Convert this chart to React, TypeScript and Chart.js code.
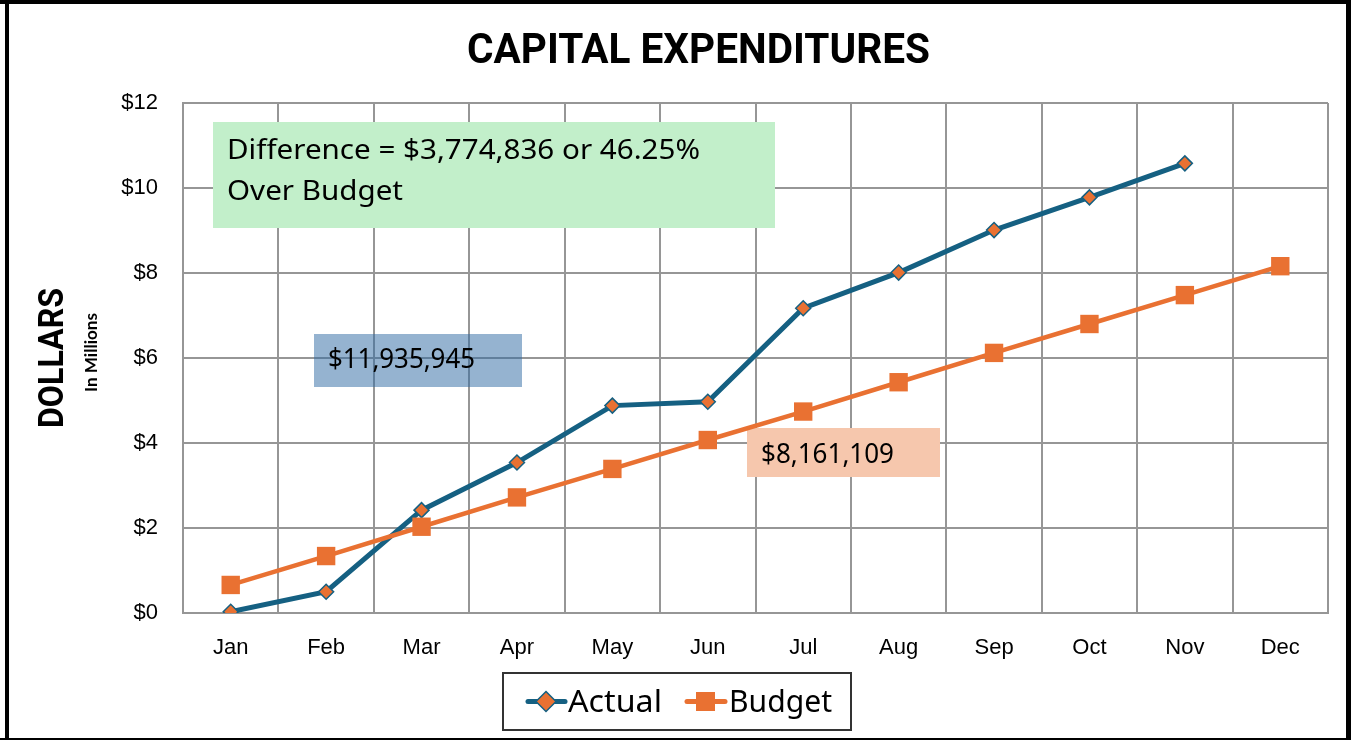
import React, { useEffect, useRef } from 'react';
import { Chart, registerables } from 'chart.js';

Chart.register(...registerables);

// ---- Data ----
const months = ['Jan', 'Feb', 'Mar', 'Apr', 'May', 'Jun', 'Jul', 'Aug', 'Sep', 'Oct', 'Nov', 'Dec'];
const actualValues: (number | null)[] = [0.03, 0.5, 2.42, 3.54, 4.88, 4.97, 7.17, 8.01, 9.01, 9.78, 10.58, null];
const budgetValues: number[] = [0.66, 1.34, 2.03, 2.72, 3.39, 4.07, 4.74, 5.43, 6.12, 6.8, 7.48, 8.16];
const yMin = 0;
const yMax = 12;
const yStep = 2;
const seriesNames = ['Actual', 'Budget'];
const titleText = 'CAPITAL EXPENDITURES';
const yTitleText = 'DOLLARS';
const ySubTitleText = 'In Millions';
const differenceLines = ['Difference = $3,774,836 or 46.25%', 'Over Budget'];
const actualTotalText = '$11,935,945';
const budgetTotalText = '$8,161,109';

const ACTUAL_COLOR = '#156082';
const BUDGET_COLOR = '#E97132';
const GRID_COLOR = '#969696';
const BOX_FONT = "'Noto Sans'";
const BOX_SIZE = 26.5;

// draw text with a given font size, horizontally scaled to a target width
function drawScaledText(
  ctx: CanvasRenderingContext2D,
  text: string,
  x: number,
  y: number,
  size: number,
  weight: string,
  family: string,
  targetWidth: number,
  color = '#000'
) {
  ctx.save();
  ctx.font = `${weight} ${size}px ${family}`;
  const w = ctx.measureText(text).width;
  const sx = targetWidth / w;
  ctx.translate(x, y);
  ctx.scale(sx, 1);
  ctx.fillStyle = color;
  ctx.textAlign = 'left';
  ctx.textBaseline = 'alphabetic';
  ctx.fillText(text, 0, 0);
  ctx.restore();
}

const decorPlugin = {
  id: 'decor',
  beforeDatasetsDraw(chart: any) {
    const ctx: CanvasRenderingContext2D = chart.ctx;
    ctx.save();
    // green difference box
    ctx.fillStyle = '#C2EFCA';
    ctx.fillRect(213, 122, 562, 106);
    drawScaledText(ctx, differenceLines[0], 227, 159, BOX_SIZE, '400', BOX_FONT, 473);
    ctx.font = `400 ${BOX_SIZE}px ${BOX_FONT}`;
    const sx = 473 / ctx.measureText(differenceLines[0]).width;
    const w2 = ctx.measureText(differenceLines[1]).width * sx;
    drawScaledText(ctx, differenceLines[1], 227, 200, BOX_SIZE, '400', BOX_FONT, w2);

    // blue actual total box (semi-transparent)
    ctx.fillStyle = 'rgba(44, 103, 162, 0.5)';
    ctx.fillRect(314, 334, 208, 53);
    drawScaledText(ctx, actualTotalText, 328, 368, BOX_SIZE, '400', BOX_FONT, 147);

    // orange budget total box
    ctx.fillStyle = '#F6C7AD';
    ctx.fillRect(747, 428, 193, 49);
    drawScaledText(ctx, budgetTotalText, 761, 463, BOX_SIZE, '400', BOX_FONT, 133);
    ctx.restore();
  },
  afterDraw(chart: any) {
    const ctx: CanvasRenderingContext2D = chart.ctx;
    ctx.save();
    // title
    drawScaledText(ctx, titleText, 467, 63, 42, '700', 'Roboto', 463);

    // y axis title (rotated)
    ctx.save();
    ctx.translate(63, 428);
    ctx.rotate(-Math.PI / 2);
    drawScaledText(ctx, yTitleText, 0, 0, 35, '700', 'Roboto', 140);
    ctx.restore();
    ctx.save();
    ctx.translate(97, 392);
    ctx.rotate(-Math.PI / 2);
    drawScaledText(ctx, ySubTitleText, 0, 0, 17, '700', 'Lato', 79);
    ctx.restore();

    // legend
    ctx.strokeStyle = '#333';
    ctx.lineWidth = 2;
    ctx.strokeRect(503, 673, 348, 57);
    // Actual sample
    ctx.lineCap = 'round';
    ctx.strokeStyle = ACTUAL_COLOR;
    ctx.lineWidth = 5;
    ctx.beginPath();
    ctx.moveTo(528, 701.5);
    ctx.lineTo(565, 701.5);
    ctx.stroke();
    ctx.beginPath();
    ctx.moveTo(546, 691.5);
    ctx.lineTo(556, 701.5);
    ctx.lineTo(546, 711.5);
    ctx.lineTo(536, 701.5);
    ctx.closePath();
    ctx.fillStyle = BUDGET_COLOR;
    ctx.fill();
    ctx.lineWidth = 1.5;
    ctx.stroke();
    drawScaledText(ctx, seriesNames[0], 568, 712, 31, '400', "'Noto Sans'", 94);
    // Budget sample
    ctx.strokeStyle = BUDGET_COLOR;
    ctx.lineWidth = 5;
    ctx.beginPath();
    ctx.moveTo(687, 701.5);
    ctx.lineTo(725, 701.5);
    ctx.stroke();
    ctx.fillStyle = BUDGET_COLOR;
    ctx.fillRect(696, 692, 19, 19);
    drawScaledText(ctx, seriesNames[1], 729, 712, 31, '400', "'Noto Sans'", 103);

    // outer border
    ctx.fillStyle = '#000';
    ctx.fillRect(5, 0, 4, 740);
    ctx.fillRect(0, 0, 1351, 4);
    ctx.fillRect(1346, 0, 5, 740);
    ctx.fillRect(0, 738, 1351, 2);
    ctx.restore();
  },
};

export default function App() {
  const canvasRef = useRef<HTMLCanvasElement>(null);

  useEffect(() => {
    const canvas = canvasRef.current;
    if (!canvas) return;
    const chart = new Chart(canvas, {
      type: 'line',
      data: {
        labels: months,
        datasets: [
          {
            label: seriesNames[0],
            data: actualValues,
            borderColor: ACTUAL_COLOR,
            borderWidth: 5,
            pointStyle: 'rectRot',
            pointRadius: 7.5,
            pointBackgroundColor: BUDGET_COLOR,
            pointBorderColor: ACTUAL_COLOR,
            pointBorderWidth: 1.5,
            tension: 0,
            order: 1,
            spanGaps: false,
          },
          {
            label: seriesNames[1],
            data: budgetValues,
            borderColor: BUDGET_COLOR,
            borderWidth: 4.5,
            pointStyle: 'rect',
            pointRadius: 13,
            pointBackgroundColor: BUDGET_COLOR,
            pointBorderColor: BUDGET_COLOR,
            pointBorderWidth: 0,
            tension: 0,
            order: 0,
          },
        ],
      },
      options: {
        responsive: false,
        animation: false,
        events: [],
        layout: { padding: { left: 0, right: 23, top: 103, bottom: 0 } },
        plugins: {
          legend: { display: false },
          title: { display: false },
          tooltip: { enabled: false },
        },
        scales: {
          x: {
            type: 'category',
            offset: true,
            grid: { display: true, offset: true, color: GRID_COLOR, lineWidth: 2, drawTicks: false },
            border: { display: true, color: GRID_COLOR, width: 2 },
            ticks: {
              color: '#000',
              padding: 22,
              maxRotation: 0,
              autoSkip: false,
              font: { family: "'Liberation Sans', Arial, sans-serif", size: 22 },
            },
            afterFit(scale: any) {
              scale.height = 127;
            },
          },
          y: {
            min: yMin,
            max: yMax,
            grid: { color: GRID_COLOR, lineWidth: 2, drawTicks: false },
            border: { display: true, color: GRID_COLOR, width: 2 },
            ticks: {
              stepSize: yStep,
              color: '#000',
              padding: 25,
              font: { family: "'Liberation Sans', Arial, sans-serif", size: 22 },
              callback: (v: any) => '$' + v,
            },
            afterFit(scale: any) {
              scale.width = 183;
            },
          },
        },
      },
      plugins: [decorPlugin],
    });
    return () => chart.destroy();
  }, []);

  return (
    <div style={{ width: 1351, height: 740, background: '#fff', overflow: 'hidden' }}>
      <style>{'body{margin:0;}'}</style>
      <canvas ref={canvasRef} width={1351} height={740} style={{ display: 'block' }} />
    </div>
  );
}
